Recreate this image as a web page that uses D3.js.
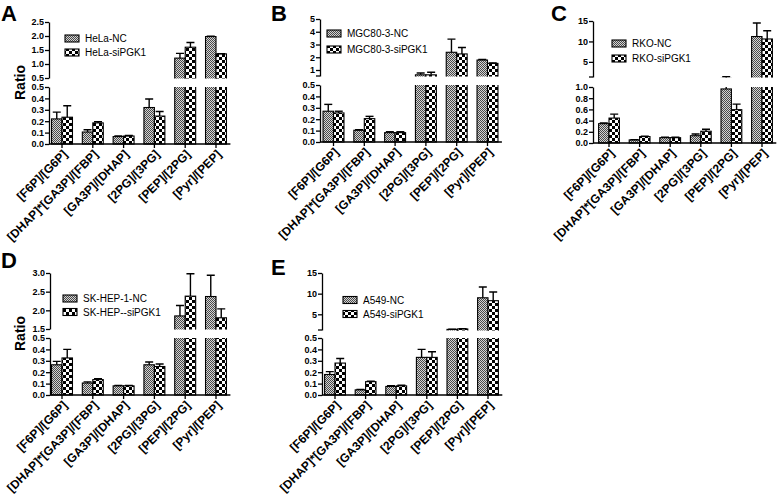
<!DOCTYPE html>
<html><head><meta charset="utf-8">
<script src="https://cdn.jsdelivr.net/npm/d3@7"></script>
<style>
html,body{margin:0;padding:0;background:#fff;}
svg{display:block;font-family:"Liberation Sans",Arial,sans-serif;}
</style></head>
<body>
<svg id="chart" width="778" height="497"></svg>
<script>
// ---------- data ----------
const categories = ["[F6P]/[G6P]", "[DHAP]*[GA3P]/[FBP]", "[GA3P]/[DHAP]", "[2PG]/[3PG]", "[PEP]/[2PG]", "[Pyr]/[PEP]"];

const helaNC    = [0.22, 0.105, 0.065, 0.32, 1.21, 1.98];
const helaNCErr = [0.06, 0.02, 0.005, 0.075, 0.17, 0.01];
const helaSi    = [0.235, 0.185, 0.07, 0.245, 1.6, 1.36];
const helaSiErr = [0.1, 0.01, 0.005, 0.04, 0.17, 0.01];

const mgcNC    = [0.27, 0.103, 0.082, 0.62, 2.39, 1.78];
const mgcNCErr = [0.06, 0.005, 0.008, 0.15, 1.03, 0.05];
const mgcSi    = [0.255, 0.205, 0.082, 0.62, 2.26, 1.52];
const mgcSiErr = [0.015, 0.02, 0.008, 0.2, 0.5, 0.04];

const rkoNC    = [0.345, 0.055, 0.095, 0.13, 0.965, 11.2];
const rkoNCErr = [0.012, 0.005, 0.008, 0.03, 0.4, 3.3];
const rkoSi    = [0.445, 0.115, 0.095, 0.21, 0.595, 10.6];
const rkoSiErr = [0.07, 0.008, 0.008, 0.035, 0.1, 2.0];

const skNC    = [0.265, 0.105, 0.08, 0.265, 1.85, 2.37];
const skNCErr = [0.03, 0.01, 0.004, 0.025, 0.28, 0.57];
const skSi    = [0.325, 0.135, 0.08, 0.25, 2.38, 1.8];
const skSiErr = [0.075, 0.008, 0.004, 0.022, 0.6, 0.24];

const a549NC    = [0.18, 0.045, 0.075, 0.33, 1.35, 9.0];
const a549NCErr = [0.025, 0.004, 0.006, 0.07, 0.04, 2.6];
const a549Si    = [0.28, 0.117, 0.08, 0.33, 1.45, 8.3];
const a549SiErr = [0.04, 0.004, 0.006, 0.05, 0.08, 2.1];

const ticksLow05 = [0, 0.1, 0.2, 0.3, 0.4, 0.5];
const ticksLow10 = [0, 0.2, 0.4, 0.6, 0.8, 1.0];
const ticksHighA = [0.5, 1.0, 1.5, 2.0, 2.5];
const ticksHighB = [1, 2, 3, 4, 5];
const ticksHighC = [5, 10, 15];
const ticksHighD = [1.5, 2.0, 2.5, 3.0];
const ticksHighE = [5, 10, 15];

// ---------- layout ----------
const panels = [
  {letter:"A", lx:1, ly:21, ratio:true, names:["HeLa-NC","HeLa-siPGK1"], nc:helaNC, ncErr:helaNCErr, si:helaSi, siErr:helaSiErr,
   ax:49, c0:62, step:30.8, axisY:144, low:{dom:[0,0.5], top:87, ticks:ticksLow05, fmt:".1f"},
   high:{dom:[0.5,2.5], range:[78,22], ticks:ticksHighA, fmt:".1f", mark:false}, leg:{x:65, y:[38.5,52.5]}},
  {letter:"B", lx:271, ly:21, ratio:false, names:["MGC80-3-NC","MGC80-3-siPGK1"], nc:mgcNC, ncErr:mgcNCErr, si:mgcSi, siErr:mgcSiErr,
   ax:320, c0:333.5, step:30.8, axisY:142, low:{dom:[0,0.5], top:85, ticks:ticksLow05, fmt:".1f"},
   high:{dom:[0.53,5], range:[76,19], ticks:ticksHighB, fmt:"d", mark:true}, leg:{x:327, y:[33.5,49.5]}},
  {letter:"C", lx:551, ly:21, ratio:false, names:["RKO-NC","RKO-siPGK1"], nc:rkoNC, ncErr:rkoNCErr, si:rkoSi, siErr:rkoSiErr,
   ax:593, c0:609, step:30.6, axisY:143, low:{dom:[0,1.0], top:87, ticks:ticksLow10, fmt:".1f"},
   high:{dom:[1.3,15], range:[77,21], ticks:ticksHighC, fmt:"d", mark:true}, leg:{x:612, y:[43.5,58.5]}},
  {letter:"D", lx:1, ly:268, ratio:true, names:["SK-HEP-1-NC","SK-HEP--siPGK1"], nc:skNC, ncErr:skNCErr, si:skSi, siErr:skSiErr,
   ax:50, c0:62, step:30.8, axisY:395, low:{dom:[0,0.5], top:338, ticks:ticksLow05, fmt:".1f"},
   high:{dom:[1.5,3.0], range:[329,273], ticks:ticksHighD, fmt:".1f", mark:false}, leg:{x:63, y:[298.5,312]}},
  {letter:"E", lx:271, ly:275, ratio:false, names:["A549-NC","A549-siPGK1"], nc:a549NC, ncErr:a549NCErr, si:a549Si, siErr:a549SiErr,
   ax:322, c0:335, step:30.6, axisY:395, low:{dom:[0,0.5], top:338, ticks:ticksLow05, fmt:".1f"},
   high:{dom:[1.2,15], range:[330,273], ticks:ticksHighE, fmt:"d", mark:true}, leg:{x:343, y:[300,314]}}
];

const svg = d3.select("#chart");
const defs = svg.append("defs");

// patterns
const pNC = defs.append("pattern").attr("id","pNC").attr("width",2).attr("height",2).attr("patternUnits","userSpaceOnUse");
pNC.append("rect").attr("width",2).attr("height",2).attr("fill","#d4d4d4");
pNC.append("rect").attr("width",1).attr("height",1).attr("fill","#4a4a4a");
pNC.append("rect").attr("x",1).attr("y",1).attr("width",1).attr("height",1).attr("fill","#4a4a4a");
const pSI = defs.append("pattern").attr("id","pSI").attr("width",6).attr("height",6).attr("patternUnits","userSpaceOnUse");
pSI.append("rect").attr("width",6).attr("height",6).attr("fill","#fff");
pSI.append("rect").attr("width",3).attr("height",3).attr("fill","#000");
pSI.append("rect").attr("x",3).attr("y",3).attr("width",3).attr("height",3).attr("fill","#000");

const fills = ["url(#pNC)", "url(#pSI)"];
const AXW = 1.3;

panels.forEach((P, pi) => {
  const g = svg.append("g");
  const r0 = P.c0 - P.step/2, r1 = P.c0 + P.step*5.5;
  const x = d3.scaleBand().domain(categories).range([r0, r1]).paddingInner(0.32).paddingOuter(0.16);
  const xs = d3.scaleBand().domain([0,1]).range([0, x.bandwidth()]);
  const series = [
    {vals:P.nc, errs:P.ncErr},
    {vals:P.si, errs:P.siErr}
  ];

  const segs = [
    {key:"low", dom:P.low.dom, range:[P.axisY, P.low.top], clipY:P.low.top, clipH:P.axisY - P.low.top + 2, base:P.axisY},
    {key:"high", dom:P.high.dom, range:P.high.range, clipY:0, clipH:P.high.range[0] + 0.5, base:P.high.range[0] + 3}
  ];

  segs.forEach((S, si) => {
    const y = d3.scaleLinear().domain(S.dom).range(S.range);
    const cid = `clip${pi}_${si}`;
    defs.append("clipPath").attr("id", cid).append("rect")
      .attr("x", P.ax).attr("y", S.clipY).attr("width", r1 - P.ax + 5).attr("height", S.clipH);
    const sg = g.append("g").attr("clip-path", `url(#${cid})`);
    series.forEach((s, k) => {
      categories.forEach((c, i) => {
        const v = s.vals[i], e = s.errs[i];
        const bx = x(c) + xs(k), bw = xs.bandwidth();
        const yt = y(v);
        if (yt < S.base) {
          sg.append("rect").attr("x", bx).attr("y", yt).attr("width", bw).attr("height", S.base - yt)
            .attr("fill", fills[k]).attr("stroke", "#000").attr("stroke-width", 1.1);
        }
        const cx = bx + bw/2, ye = y(v + e);
        sg.append("line").attr("x1", cx).attr("x2", cx).attr("y1", yt).attr("y2", ye)
          .attr("stroke", "#000").attr("stroke-width", 1.4);
        sg.append("line").attr("x1", cx - 4).attr("x2", cx + 4).attr("y1", ye).attr("y2", ye)
          .attr("stroke", "#000").attr("stroke-width", 1.4);
      });
    });
    // y axis for this segment
    const conf = si === 0 ? P.low : P.high;
    const ax = g.append("g").attr("transform", `translate(${P.ax},0)`)
      .call(d3.axisLeft(y).tickValues(conf.ticks).tickSize(4).tickSizeOuter(0).tickFormat(d3.format(conf.fmt)));
    ax.select(".domain").attr("stroke-width", AXW);
    ax.selectAll(".tick line").attr("stroke-width", AXW);
    ax.selectAll(".tick text").attr("font-size", 9).attr("font-weight", "bold").attr("font-family", "Liberation Sans, Arial, sans-serif").attr("x", -5);
    if (si === 1 && conf.mark) {
      g.append("line").attr("x1", P.ax - 4).attr("x2", P.ax).attr("y1", S.range[0]).attr("y2", S.range[0])
        .attr("stroke", "#000").attr("stroke-width", AXW);
    }
  });

  // x axis
  g.append("line").attr("x1", P.ax).attr("x2", r1 - 1).attr("y1", P.axisY).attr("y2", P.axisY)
    .attr("stroke", "#000").attr("stroke-width", AXW);
  categories.forEach(c => {
    const cx = x(c) + x.bandwidth()/2;
    g.append("line").attr("x1", cx).attr("x2", cx).attr("y1", P.axisY).attr("y2", P.axisY + 4)
      .attr("stroke", "#000").attr("stroke-width", AXW);
    g.append("text").attr("transform", `translate(${cx + 6},${P.axisY + 11}) rotate(-45)`)
      .attr("text-anchor", "end").attr("font-size", 12).attr("font-weight", "bold").text(c);
  });

  // legend
  P.names.forEach((n, k) => {
    const ly = P.leg.y[k];
    g.append("rect").attr("x", P.leg.x).attr("y", ly - 3.5).attr("width", 14).attr("height", 7)
      .attr("fill", fills[k]).attr("stroke", "#000").attr("stroke-width", 1.1);
    g.append("text").attr("x", P.leg.x + 20).attr("y", ly).attr("dy", "0.35em")
      .attr("font-size", 10).text(n);
  });

  // panel letter
  g.append("text").attr("x", P.lx).attr("y", P.ly).attr("font-size", 22).attr("font-weight", "bold").text(P.letter);

  if (P.ratio) {
    const cy = (P.low.top + P.high.range[0]) / 2;
    g.append("text").attr("transform", `translate(20,${cy}) rotate(-90)`).attr("text-anchor", "middle")
      .attr("dy", "0.35em").attr("font-size", 14).attr("font-weight", "bold").text("Ratio");
  }
});
</script>
</body></html>
